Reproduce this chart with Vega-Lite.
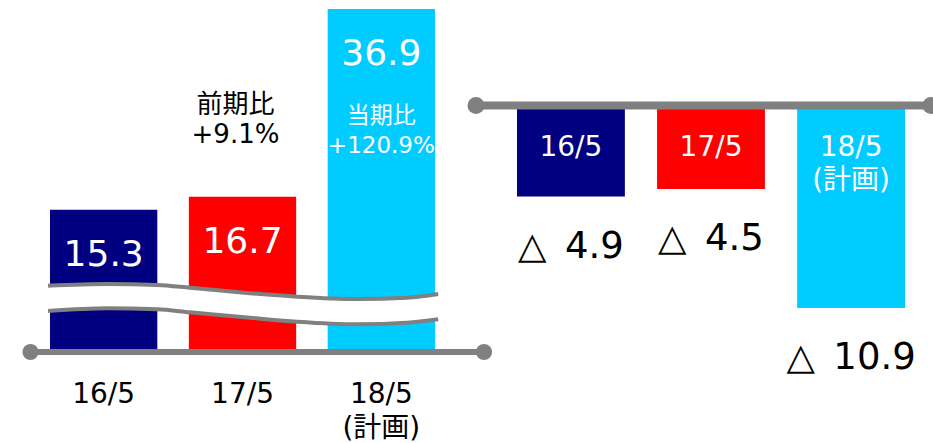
{
  "$schema": "https://vega.github.io/schema/vega-lite/v6.json",
  "width": 933,
  "height": 443,
  "autosize": "none",
  "padding": 0,
  "background": "white",
  "config": {
    "view": {"stroke": null},
    "font": "DejaVu Sans, Noto Sans CJK JP, sans-serif"
  },
  "datasets": {
    "left": [
      {"period": "16/5", "name": "16/5", "value": 15.3, "note": ""},
      {"period": "17/5", "name": "17/5", "value": 16.7, "note": "前期比\n+9.1%"},
      {"period": "18/5", "name": "18/5\n(計画)", "value": 36.9, "note": "当期比\n+120.9%"}
    ],
    "right": [
      {"period": "16/5", "name": "16/5", "value": -4.9, "label": "△\u20024.9"},
      {"period": "17/5", "name": "17/5", "value": -4.5, "label": "△\u20024.5"},
      {"period": "18/5", "name": "18/5\n(計画)", "value": -10.9, "label": "△\u200210.9"}
    ],
    "axisEnds": [{"t": 0}, {"t": 100}],
    "wave": [
      {"t": 3.86, "upper": 7.13, "lower": 4.41},
      {"t": 16.87, "upper": 7.32, "lower": 4.70},
      {"t": 27.9, "upper": 7.21, "lower": 4.59},
      {"t": 35.2, "upper": 6.92, "lower": 4.27},
      {"t": 48.4, "upper": 6.32, "lower": 3.69},
      {"t": 58.8, "upper": 5.95, "lower": 3.26},
      {"t": 72.0, "upper": 5.70, "lower": 2.98},
      {"t": 83.0, "upper": 5.84, "lower": 3.15},
      {"t": 89.9, "upper": 6.24, "lower": 3.52}
    ]
  },
  "layer": [
    {
      "layer": [
        {
          "data": {"name": "left"},
          "encoding": {
            "x": {"field": "period", "type": "nominal", "axis": null, "sort": null,
                  "scale": {"range": [50, 435], "paddingInner": 0.227, "paddingOuter": 0}}
          },
          "layer": [
            {
              "mark": {"type": "bar"},
              "encoding": {
                "y": {"field": "value", "type": "quantitative", "axis": null,
                      "scale": {"domain": [0, 36.9], "range": [352, 9], "nice": false, "zero": false}},
                "color": {"field": "period", "type": "nominal", "legend": null,
                          "scale": {"domain": ["16/5", "17/5", "18/5"], "range": ["#000080", "#FF0000", "#00CCFF"]}}
              }
            },
            {
              "mark": {"type": "text", "color": "white", "fontSize": 36, "baseline": "alphabetic", "dy": 56},
              "encoding": {
                "y": {"field": "value", "type": "quantitative", "axis": null,
                      "scale": {"domain": [0, 36.9], "range": [352, 9], "nice": false, "zero": false}},
                "text": {"field": "value", "type": "quantitative", "format": ".1f"}
              }
            },
            {
              "mark": {"type": "text", "color": "black", "fontSize": 28, "baseline": "alphabetic", "dy": 51, "lineBreak": "\n", "lineHeight": 34},
              "encoding": {
                "y": {"datum": 0, "type": "quantitative", "axis": null,
                      "scale": {"domain": [0, 36.9], "range": [352, 9], "nice": false, "zero": false}},
                "text": {"field": "name", "type": "nominal"}
              }
            },
            {
              "transform": [{"filter": "datum.period === '17/5'"}],
              "mark": {"type": "text", "color": "black", "fontSize": 26, "baseline": "alphabetic", "dy": -84, "dx": -7, "lineBreak": "\n", "lineHeight": 30},
              "encoding": {
                "y": {"field": "value", "type": "quantitative", "axis": null,
                      "scale": {"domain": [0, 36.9], "range": [352, 9], "nice": false, "zero": false}},
                "text": {"field": "note", "type": "nominal"}
              }
            },
            {
              "transform": [{"filter": "datum.period === '18/5'"}],
              "mark": {"type": "text", "color": "white", "fontSize": 23, "baseline": "alphabetic", "dy": 114, "lineBreak": "\n", "lineHeight": 30},
              "encoding": {
                "y": {"field": "value", "type": "quantitative", "axis": null,
                      "scale": {"domain": [0, 36.9], "range": [352, 9], "nice": false, "zero": false}},
                "text": {"field": "note", "type": "nominal"}
              }
            }
          ]
        },
        {
          "encoding": {
            "x": {"field": "t", "type": "quantitative", "axis": null,
                  "scale": {"domain": [0, 100], "range": [30.5, 484], "nice": false, "zero": false}}
          },
          "layer": [
            {
              "data": {"name": "wave"},
              "mark": {"type": "area", "color": "white", "interpolate": "monotone"},
              "encoding": {
                "y": {"field": "upper", "type": "quantitative", "axis": null,
                      "scale": {"domain": [0, 36.9], "range": [352, 9], "nice": false, "zero": false}},
                "y2": {"field": "lower"}
              }
            },
            {
              "data": {"name": "wave"},
              "mark": {"type": "line", "color": "#808080", "strokeWidth": 4, "interpolate": "monotone"},
              "encoding": {
                "y": {"field": "upper", "type": "quantitative", "axis": null,
                      "scale": {"domain": [0, 36.9], "range": [352, 9], "nice": false, "zero": false}}
              }
            },
            {
              "data": {"name": "wave"},
              "mark": {"type": "line", "color": "#808080", "strokeWidth": 4, "interpolate": "monotone"},
              "encoding": {
                "y": {"field": "lower", "type": "quantitative", "axis": null,
                      "scale": {"domain": [0, 36.9], "range": [352, 9], "nice": false, "zero": false}}
              }
            },
            {
              "data": {"name": "axisEnds"},
              "mark": {"type": "line", "color": "#808080", "strokeWidth": 6},
              "encoding": {
                "y": {"datum": 0, "type": "quantitative", "axis": null,
                      "scale": {"domain": [0, 36.9], "range": [352, 9], "nice": false, "zero": false}}
              }
            },
            {
              "data": {"name": "axisEnds"},
              "mark": {"type": "point", "filled": true, "color": "#808080", "opacity": 1, "size": 260},
              "encoding": {
                "y": {"datum": 0, "type": "quantitative", "axis": null,
                      "scale": {"domain": [0, 36.9], "range": [352, 9], "nice": false, "zero": false}}
              }
            }
          ]
        }
      ],
      "resolve": {"scale": {"x": "independent"}}
    },
    {
      "layer": [
        {
          "data": {"name": "right"},
          "encoding": {
            "x": {"field": "period", "type": "nominal", "axis": null, "sort": null,
                  "scale": {"range": [517, 905], "paddingInner": 0.23, "paddingOuter": 0}}
          },
          "layer": [
            {
              "mark": {"type": "bar"},
              "encoding": {
                "y": {"field": "value", "type": "quantitative", "axis": null,
                      "scale": {"domain": [-10.9, 0], "range": [308, 105.5], "nice": false, "zero": false}},
                "y2": {"datum": 0},
                "color": {"field": "period", "type": "nominal", "legend": null,
                          "scale": {"domain": ["16/5", "17/5", "18/5"], "range": ["#000080", "#FF0000", "#00CCFF"]}}
              }
            },
            {
              "mark": {"type": "text", "color": "white", "fontSize": 28, "baseline": "alphabetic", "dy": 50, "lineBreak": "\n", "lineHeight": 33},
              "encoding": {
                "y": {"datum": 0, "type": "quantitative", "axis": null,
                      "scale": {"domain": [-10.9, 0], "range": [308, 105.5], "nice": false, "zero": false}},
                "text": {"field": "name", "type": "nominal"}
              }
            },
            {
              "mark": {"type": "text", "color": "black", "fontSize": 37, "baseline": "alphabetic", "dy": 61},
              "encoding": {
                "y": {"field": "value", "type": "quantitative", "axis": null,
                      "scale": {"domain": [-10.9, 0], "range": [308, 105.5], "nice": false, "zero": false}},
                "text": {"field": "label", "type": "nominal"}
              }
            }
          ]
        },
        {
          "data": {"name": "axisEnds"},
          "encoding": {
            "x": {"field": "t", "type": "quantitative", "axis": null,
                  "scale": {"domain": [0, 100], "range": [476, 931], "nice": false, "zero": false}},
            "y": {"datum": 0, "type": "quantitative", "axis": null,
                  "scale": {"domain": [-10.9, 0], "range": [308, 105.5], "nice": false, "zero": false}}
          },
          "layer": [
            {"mark": {"type": "line", "color": "#808080", "strokeWidth": 8}},
            {"mark": {"type": "point", "filled": true, "color": "#808080", "opacity": 1, "size": 290}}
          ]
        }
      ],
      "resolve": {"scale": {"x": "independent"}}
    }
  ],
  "resolve": {"scale": {"x": "independent", "y": "independent", "color": "independent"}}
}
